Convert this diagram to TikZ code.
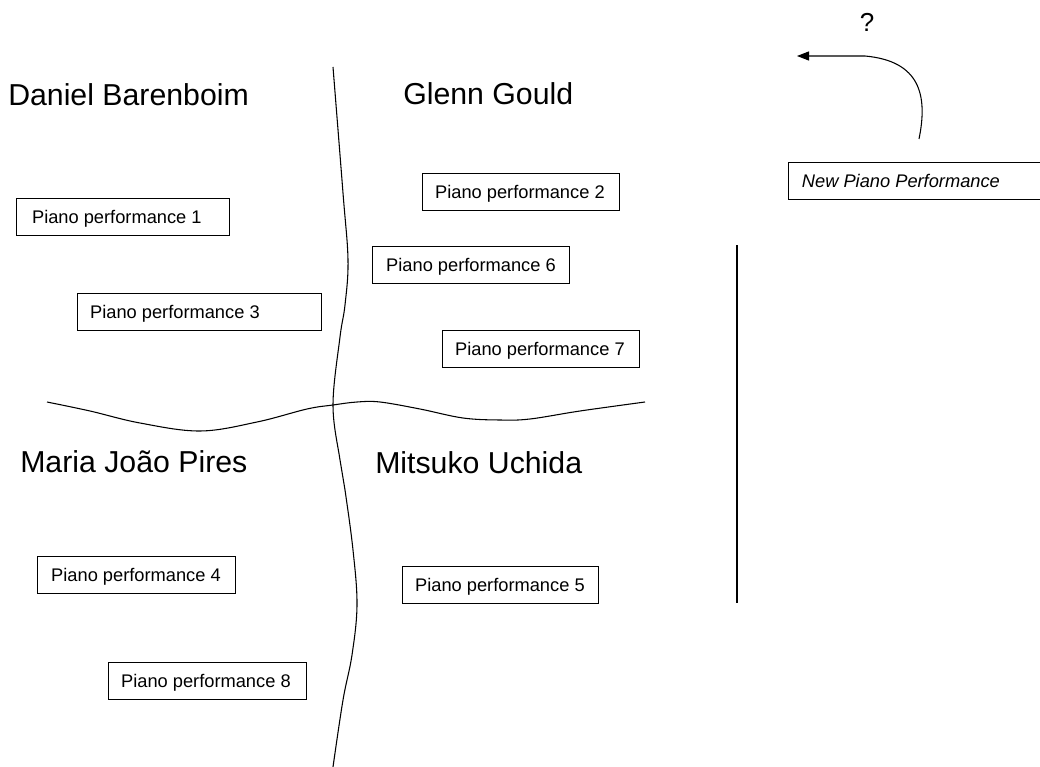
\documentclass[tikz,border=0pt]{standalone}
\usepackage{fontspec}
\setmainfont{Liberation Sans}
\usetikzlibrary{arrows.meta}
\newcommand{\boxtext}[2]{\makebox[#1][l]{#2}}
\begin{document}
\begin{tikzpicture}[x=0.75pt,y=-0.75pt,
  heading/.style={anchor=base west, inner sep=0pt, font=\fontsize{22.7}{26}\selectfont},
  pbox/.style={draw, line width=0.9pt, anchor=north west, inner xsep=9.4pt, inner ysep=0pt,
    text height=9.8pt, text depth=0pt,
    minimum height=27.75pt, font=\fontsize{13.7}{16}\selectfont},
  divider/.style={line width=0.8pt},
  guess/.style={line width=0.8pt, -{Triangle[length=9pt,width=6.75pt]}}]
  \clip (0,0) rectangle (1040,767);
  \fill[white] (0,0) rectangle (1040,767);

  % pianists
  \node[heading] (barenboim) at (8,106) {Daniel Barenboim};
  \node[heading] (gould) at (403,104) {Glenn Gould};
  \node[heading] (pires) at (20,472) {Maria João Pires};
  \node[heading] (uchida) at (375,473) {Mitsuko Uchida};

  % performances
  \node[pbox, inner xsep=11.6pt] (p1) at (16,198) {\boxtext{136.5pt}{Piano performance 1}};
  \node[pbox] (p3) at (77,293) {\boxtext{164.25pt}{Piano performance 3}};
  \node[pbox] (p2) at (422,173) {\boxtext{129pt}{Piano performance 2}};
  \node[pbox, inner xsep=10.2pt] (p6) at (372,246) {\boxtext{127.3pt}{Piano performance 6}};
  \node[pbox] (p7) at (442,330) {\boxtext{129pt}{Piano performance 7}};
  \node[pbox, inner xsep=10.2pt] (p4) at (37,556) {\boxtext{128.2pt}{Piano performance 4}};
  \node[pbox] (p8) at (108,662) {\boxtext{129.75pt}{Piano performance 8}};
  \node[pbox] (p5) at (402,566) {\boxtext{128.25pt}{Piano performance 5}};

  % the unclassified performance
  \node[pbox, inner xsep=10pt, font=\fontsize{13.7}{16}\selectfont\itshape]
    (newp) at (788,162) {\boxtext{240pt}{New Piano Performance}};
  \node[font=\fontsize{19.5}{22}\selectfont, inner sep=0pt] (q) at (867,22) {?};
  \coordinate (qfrom) at (919,139);
  \coordinate (qto) at (797,56);
  \draw[guess] (qfrom) .. controls (928,95) and (920,61) .. (865,56) -- (qto);

  % dividing lines between the pianists
  \draw[divider] plot[smooth, tension=0.6] coordinates {(333,67) (343,193) (348,260) (345,305)
    (340,337) (333,405) (340,460) (345,490) (353,550) (357,605) (352,655) (343,700) (333,767)};
  \draw[divider] plot[smooth, tension=0.6] coordinates {(47,402) (90,411) (140,423) (200,431)
    (257,422) (307,409) (333,405) (357,402) (380,402) (420,409) (463,418) (500,420)
    (530,419) (580,411) (645,402)};

  % separator of the new performance
  \draw[line width=1pt] (737,245) -- (737,603);
\end{tikzpicture}
\end{document}
